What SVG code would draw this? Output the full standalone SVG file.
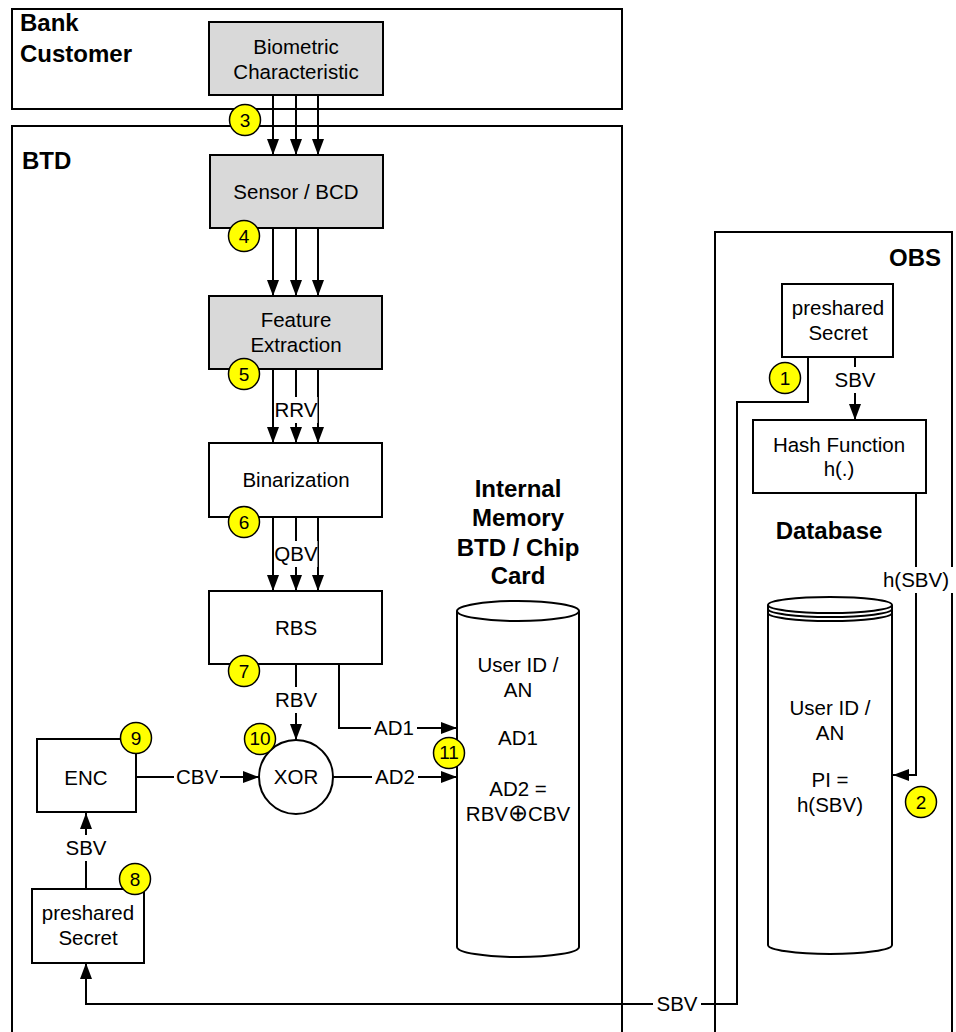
<svg xmlns="http://www.w3.org/2000/svg" width="956" height="1032" viewBox="0 0 956 1032">
<style>
.box{fill:#fff;stroke:#000;stroke-width:2}
.gray{fill:#d9d9d9;stroke:#000;stroke-width:2}
.t{font-family:"Liberation Sans",Arial,sans-serif;font-size:20.5px;fill:#000;text-anchor:middle}
.b{font-family:"Liberation Sans",Arial,sans-serif;font-size:24px;font-weight:bold;fill:#000}
.ln{fill:none;stroke:#000;stroke-width:2}
.ar{fill:none;stroke:#000;stroke-width:2;marker-end:url(#ah)}
.num{fill:#ffff00;stroke:#000;stroke-width:1.5}
.nt{font-family:"Liberation Sans",Arial,sans-serif;font-size:19px;fill:#000;text-anchor:middle}
.lbg{fill:#fff;stroke:none}
</style>
<defs>
<marker id="ah" viewBox="0 0 16 12" markerWidth="16" markerHeight="12" refX="16" refY="6" orient="auto" markerUnits="userSpaceOnUse">
<path d="M0,0 L16,6 L0,12 z" fill="#000"/>
</marker>
</defs>
<rect width="956" height="1032" fill="#fff"/>

<g id="bank-customer">
<rect class="box" x="12" y="9" width="610" height="100"/>
<text class="b" x="20" y="31">Bank</text>
<text class="b" x="20" y="62">Customer</text>
</g>
<g id="btd">
<rect class="box" x="12" y="126" width="610" height="920"/>
<text class="b" x="22" y="169">BTD</text>
</g>
<g id="obs">
<rect class="box" x="715" y="232" width="237" height="820"/>
<text class="b" x="941" y="266" text-anchor="end">OBS</text>
</g>

<g id="biometric">
<rect class="gray" x="209" y="22" width="174" height="73"/>
<text class="t" x="296" y="54">Biometric</text>
<text class="t" x="296" y="79">Characteristic</text>
</g>
<g id="sensor">
<rect class="gray" x="210" y="155" width="173" height="73"/>
<text class="t" x="296" y="199">Sensor / BCD</text>
</g>
<g id="feature">
<rect class="gray" x="209" y="296" width="173" height="73"/>
<text class="t" x="296" y="327">Feature</text>
<text class="t" x="296" y="352">Extraction</text>
</g>
<g id="binarization">
<rect class="box" x="209" y="443" width="173" height="74"/>
<text class="t" x="296" y="487">Binarization</text>
</g>
<g id="rbs">
<rect class="box" x="209" y="591" width="173" height="73"/>
<text class="t" x="296" y="635">RBS</text>
</g>
<g id="xor">
<circle class="box" cx="296" cy="777" r="37"/>
<text class="t" x="296" y="784">XOR</text>
</g>
<g id="enc">
<rect class="box" x="37" y="739" width="99" height="73"/>
<text class="t" x="86" y="785">ENC</text>
</g>
<g id="secret-btd">
<rect class="box" x="32" y="889" width="112" height="74"/>
<text class="t" x="88" y="920">preshared</text>
<text class="t" x="88" y="945">Secret</text>
</g>
<g id="internal-memory">
<text class="b" x="518" y="497" text-anchor="middle">Internal</text>
<text class="b" x="518" y="526" text-anchor="middle">Memory</text>
<text class="b" x="518" y="556" text-anchor="middle">BTD / Chip</text>
<text class="b" x="518" y="584" text-anchor="middle">Card</text>
<path class="box" d="M457,611 L457,947 A61,10 0 0 0 579,947 L579,611"/>
<ellipse class="box" cx="518" cy="611" rx="61" ry="10"/>
<text class="t" x="518" y="672">User ID /</text>
<text class="t" x="518" y="697">AN</text>
<text class="t" x="518" y="745">AD1</text>
<text class="t" x="518" y="796">AD2 =</text>
<text class="t" x="518" y="821">RBV<tspan font-size="24">⊕</tspan>CBV</text>
</g>
<g id="secret-obs">
<rect class="box" x="782" y="284" width="111" height="73"/>
<text class="t" x="838" y="315">preshared</text>
<text class="t" x="838" y="340">Secret</text>
</g>
<g id="hash">
<rect class="box" x="753" y="420" width="173" height="73"/>
<text class="t" x="839" y="452">Hash Function</text>
<text class="t" x="839" y="476">h(.)</text>
</g>
<g id="database">
<text class="b" x="829" y="539" text-anchor="middle">Database</text>
<path class="box" d="M768,605 L768,945 A62,9 0 0 0 892,945 L892,605"/>
<ellipse class="box" cx="830" cy="605" rx="62" ry="8"/>
<path class="ln" d="M768,609 A62,8 0 0 0 892,609 M768,613 A62,8 0 0 0 892,613" stroke-width="1.5"/>
<text class="t" x="830" y="715">User ID /</text>
<text class="t" x="830" y="740">AN</text>
<text class="t" x="830" y="787">PI =</text>
<text class="t" x="830" y="812">h(SBV)</text>
</g>

<g id="connectors">
<line class="ar" x1="273" y1="95" x2="273" y2="155"/>
<line class="ar" x1="296" y1="95" x2="296" y2="155"/>
<line class="ar" x1="318" y1="95" x2="318" y2="155"/>
<line class="ar" x1="273" y1="228" x2="273" y2="296"/>
<line class="ar" x1="296" y1="228" x2="296" y2="296"/>
<line class="ar" x1="318" y1="228" x2="318" y2="296"/>
<line class="ar" x1="273" y1="369" x2="273" y2="443"/>
<line class="ar" x1="296" y1="369" x2="296" y2="443"/>
<line class="ar" x1="318" y1="369" x2="318" y2="443"/>
<rect class="lbg" x="274.5" y="397" width="43" height="26"/>
<text class="t" x="296" y="417">RRV</text>
<line class="ar" x1="273" y1="517" x2="273" y2="591"/>
<line class="ar" x1="296" y1="517" x2="296" y2="591"/>
<line class="ar" x1="318" y1="517" x2="318" y2="591"/>
<rect class="lbg" x="274.5" y="541" width="43" height="26"/>
<text class="t" x="296" y="561">QBV</text>
<line class="ar" x1="296" y1="664" x2="296" y2="740"/>
<rect class="lbg" x="272" y="687" width="48" height="26"/>
<text class="t" x="296" y="707">RBV</text>
<polyline class="ar" points="339,664 339,728 457,728"/>
<rect class="lbg" x="371" y="715" width="46" height="26"/>
<text class="t" x="394" y="735">AD1</text>
<line class="ar" x1="136" y1="777" x2="259" y2="777"/>
<rect class="lbg" x="174" y="764" width="46" height="26"/>
<text class="t" x="197" y="784">CBV</text>
<line class="ar" x1="333" y1="777" x2="457" y2="777"/>
<rect class="lbg" x="372" y="764" width="46" height="26"/>
<text class="t" x="395" y="784">AD2</text>
<line class="ar" x1="86" y1="889" x2="86" y2="813"/>
<rect class="lbg" x="62" y="835" width="48" height="26"/>
<text class="t" x="86" y="855">SBV</text>
<polyline class="ar" points="808,357 808,402 737,402 737,1004 86,1004 86,963"/>
<rect class="lbg" x="653" y="991" width="48" height="26"/>
<text class="t" x="677" y="1011">SBV</text>
<line class="ar" x1="855" y1="357" x2="855" y2="420"/>
<rect class="lbg" x="831" y="367" width="48" height="26"/>
<text class="t" x="855" y="387">SBV</text>
<polyline class="ar" points="916,493 916,775 893,775"/>
<rect class="lbg" x="879" y="567" width="74" height="26"/>
<text class="t" x="916" y="587">h(SBV)</text>
</g>

<g id="markers">
<circle class="num" cx="245" cy="120" r="15.5"/><text class="nt" x="245" y="127">3</text>
<circle class="num" cx="244" cy="236" r="15.5"/><text class="nt" x="244" y="243">4</text>
<circle class="num" cx="244" cy="374" r="15.5"/><text class="nt" x="244" y="381">5</text>
<circle class="num" cx="244" cy="522" r="15.5"/><text class="nt" x="244" y="529">6</text>
<circle class="num" cx="244" cy="671" r="15.5"/><text class="nt" x="244" y="678">7</text>
<circle class="num" cx="135" cy="879" r="15.5"/><text class="nt" x="135" y="886">8</text>
<circle class="num" cx="136" cy="738" r="15.5"/><text class="nt" x="136" y="745">9</text>
<circle class="num" cx="260" cy="739" r="15.5"/><text class="nt" x="260" y="745" font-size="16">10</text>
<circle class="num" cx="449" cy="753" r="15.5"/><text class="nt" x="449" y="759" font-size="16">11</text>
<circle class="num" cx="785" cy="378" r="15.5"/><text class="nt" x="785" y="385">1</text>
<circle class="num" cx="921" cy="802" r="15.5"/><text class="nt" x="921" y="809">2</text>
</g>
</svg>
